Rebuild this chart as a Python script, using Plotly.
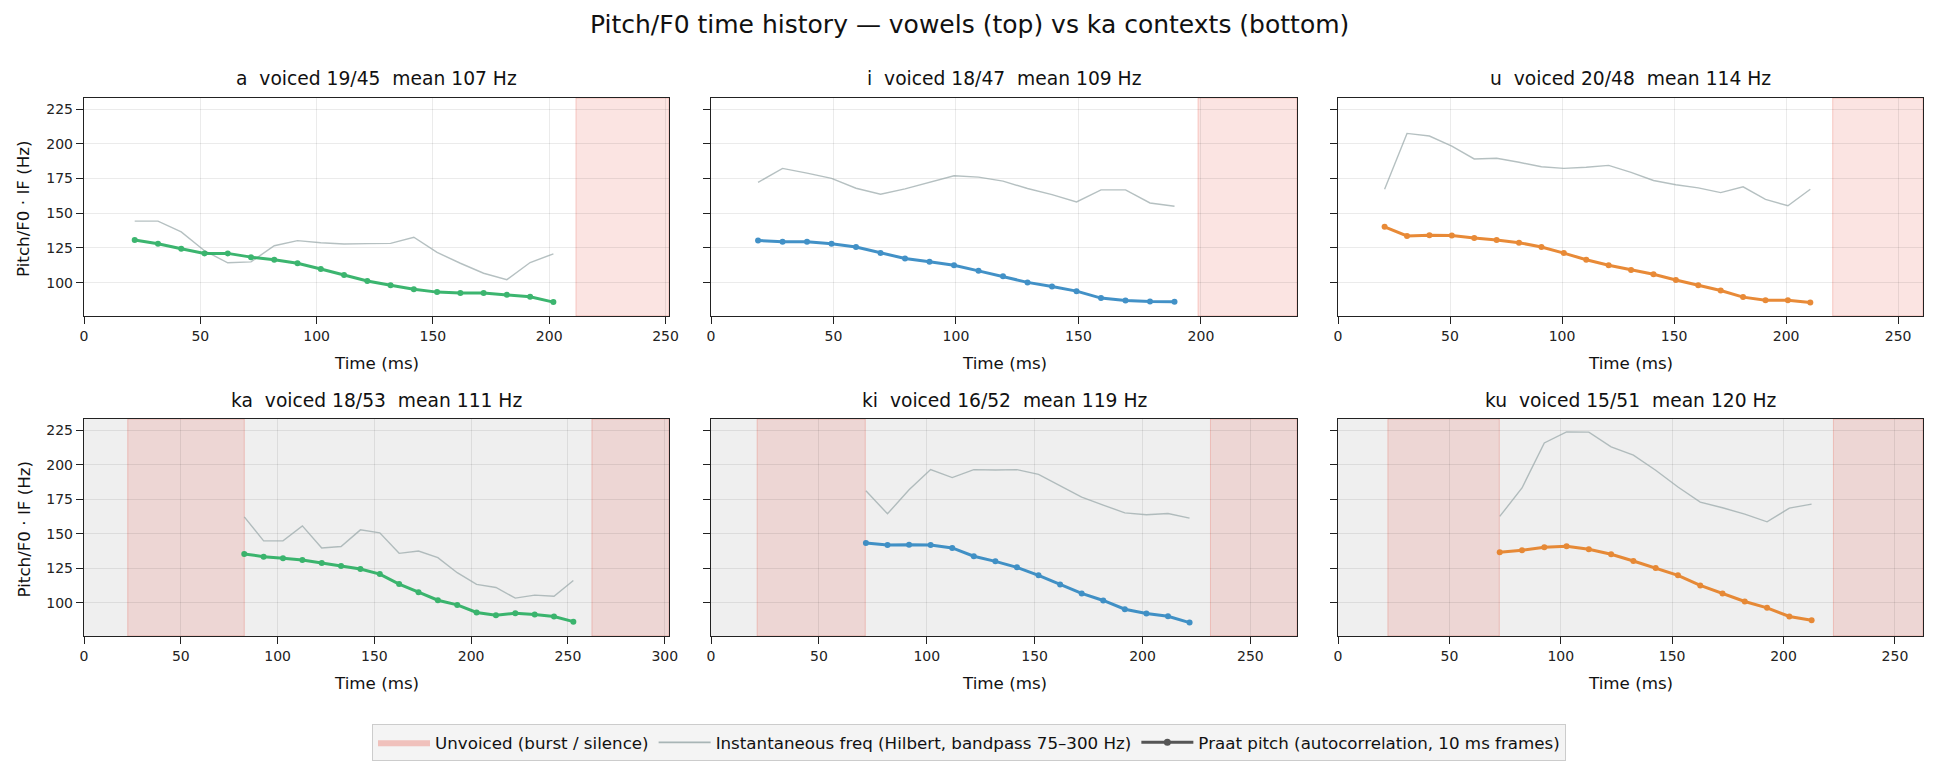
import plotly.graph_objects as go

W, H = 1938, 771

# ---------------- data ----------------
labels = ["a", "i", "u", "ka", "ki", "ku"]
voiced = [19, 18, 20, 18, 16, 15]
frames = [45, 47, 48, 53, 52, 51]
mean_hz = [107, 109, 114, 111, 119, 120]
x_max = [251.5, 239.2, 261.1, 302.2, 271.6, 262.6]

t_a = [21.8, 31.8, 41.8, 51.8, 61.8, 71.8, 81.8, 91.8, 101.8, 111.8, 121.8, 131.8, 141.8,
       151.8, 161.8, 171.8, 181.8, 191.8, 201.8]
praat_a = [130.7, 128.1, 124.5, 121.1, 121.1, 118.4, 116.5, 114.0, 109.9, 105.6, 101.2, 98.1,
           95.2, 93.2, 92.5, 92.5, 91.3, 89.8, 86.0]
if_a = [144.3, 144.3, 136.6, 123.0, 114.3, 115.0, 126.6, 130.3, 128.8, 127.8, 128.1, 128.3,
        132.7, 121.8, 114.0, 106.8, 102.2, 114.5, 120.8]

t_i = [19.2, 29.2, 39.2, 49.2, 59.2, 69.2, 79.2, 89.2, 99.2, 109.2, 119.2, 129.2, 139.2,
       149.2, 159.2, 169.2, 179.2, 189.2]
praat_i = [130.3, 129.5, 129.5, 128.1, 125.7, 121.3, 117.4, 115.0, 112.6, 108.5, 104.6, 100.2,
           97.3, 93.9, 88.9, 87.2, 86.4, 86.2]
if_i = [172.2, 182.3, 178.9, 175.1, 168.0, 163.7, 167.6, 172.2, 177.0, 176.0, 173.1, 167.8,
        163.4, 158.1, 166.8, 166.8, 157.4, 155.0]

t_u = [20.8, 30.8, 40.8, 50.8, 60.8, 70.8, 80.8, 90.8, 100.8, 110.8, 120.8, 130.8, 140.8,
       150.8, 160.8, 170.8, 180.8, 190.8, 200.8, 210.8]
praat_u = [140.2, 133.7, 134.1, 133.9, 132.2, 130.8, 128.8, 125.7, 121.3, 116.5, 112.6, 109.2,
           106.1, 101.9, 98.1, 94.4, 89.6, 87.4, 87.4, 85.7]
if_u = [167.3, 207.5, 205.6, 198.3, 189.1, 189.6, 186.7, 183.5, 182.3, 183.1, 184.5, 179.4,
        173.6, 170.5, 168.3, 164.9, 169.0, 160.0, 155.4, 167.3]

t_ka = [82.8, 92.8, 102.8, 112.8, 122.8, 132.8, 142.8, 152.8, 162.8, 172.8, 182.8, 192.8,
        202.8, 212.8, 222.8, 232.8, 242.8, 252.8]
praat_ka = [135.4, 133.4, 132.2, 131.0, 128.8, 126.6, 124.5, 120.8, 113.6, 107.7, 101.9, 98.5,
            93.0, 91.0, 92.5, 91.5, 90.1, 86.4]
if_ka = [162.2, 144.8, 144.8, 155.7, 139.7, 140.7, 152.8, 150.6, 135.8, 137.5, 132.7, 121.8,
         113.3, 111.1, 103.4, 105.6, 104.8, 116.2]

t_ki = [71.8, 81.8, 91.8, 101.8, 111.8, 121.8, 131.8, 141.8, 151.8, 161.8, 171.8, 181.8,
        191.8, 201.8, 211.8, 221.8]
praat_ki = [143.3, 141.9, 142.1, 141.9, 139.7, 133.7, 130.0, 125.7, 119.9, 113.3, 106.8, 101.7,
            95.4, 92.3, 90.3, 85.7]
if_ki = [181.1, 164.4, 181.8, 196.4, 190.6, 196.4, 196.1, 196.4, 193.0, 184.8, 176.5, 170.7,
         165.1, 163.7, 164.6, 161.3]

t_ku = [72.6, 82.6, 92.6, 102.6, 112.6, 122.6, 132.6, 142.6, 152.6, 162.6, 172.6, 182.6,
        192.6, 202.6, 212.6]
praat_ku = [136.6, 138.0, 140.2, 140.9, 138.7, 135.1, 130.3, 125.2, 119.9, 112.6, 106.8, 101.0,
            96.4, 90.1, 87.4]
if_ku = [162.5, 183.1, 215.7, 223.7, 223.5, 212.8, 206.8, 195.9, 183.8, 172.9, 168.8, 164.2,
         158.6, 168.5, 171.4]

unvoiced_a = [(211.5, 251.5)]
unvoiced_i = [(198.8, 239.2)]
unvoiced_u = [(220.8, 261.1)]
unvoiced_ka = [(22.6, 82.8), (262.4, 302.2)]
unvoiced_ki = [(21.4, 71.5), (231.5, 271.6)]
unvoiced_ku = [(22.4, 72.4), (222.4, 262.6)]

y_ticks = [100, 125, 150, 175, 200, 225]
y_range = [76, 233]
x_ticks = [0, 50, 100, 150, 200, 250, 300]

times = [t_a, t_i, t_u, t_ka, t_ki, t_ku]
praat = [praat_a, praat_i, praat_u, praat_ka, praat_ki, praat_ku]
inst = [if_a, if_i, if_u, if_ka, if_ki, if_ku]
unvoiced = [unvoiced_a, unvoiced_i, unvoiced_u, unvoiced_ka, unvoiced_ki, unvoiced_ku]
colors = ["#27ae60", "#2e86c1", "#e67e22", "#27ae60", "#2e86c1", "#e67e22"]

# ---------------- layout geometry (pixels) ----------------
cols_px = [(84, 669), (711, 1297), (1338, 1923)]
rows_px = [(98, 316), (419, 636)]

FONT = "DejaVu Sans"
DARK = "#222222"
GRID = "rgba(0,0,0,0.08)"

fig = go.Figure()
layout = dict(
    width=W, height=H, autosize=False,
    margin=dict(l=0, r=0, t=0, b=0),
    paper_bgcolor="white", plot_bgcolor="white",
    font=dict(family=FONT, color=DARK, size=14),
    showlegend=True,
)
shapes = []
annotations = []

def px2x(p):
    return p / W

def px2y(p):
    return 1 - p / H

for k in range(6):
    r, c = divmod(k, 3)
    n = k + 1
    xa = "xaxis" if n == 1 else f"xaxis{n}"
    ya = "yaxis" if n == 1 else f"yaxis{n}"
    xr = "x" if n == 1 else f"x{n}"
    yr = "y" if n == 1 else f"y{n}"
    x0p, x1p = cols_px[c]
    y0p, y1p = rows_px[r]
    layout[xa] = dict(
        domain=[px2x(x0p), px2x(x1p)], anchor=yr, range=[0, x_max[k]],
        tickvals=[v for v in x_ticks if v <= x_max[k]],
        ticks="outside", ticklen=7, tickwidth=1.2, tickcolor=DARK,
        showline=True, linecolor=DARK, linewidth=1.4, mirror=True,
        showgrid=True, gridcolor=GRID, gridwidth=1.2, zeroline=False,
        tickfont=dict(family=FONT, size=14, color=DARK), automargin=False,
    )
    layout[ya] = dict(
        domain=[px2y(y1p), px2y(y0p)], anchor=xr, range=y_range,
        tickvals=y_ticks, showticklabels=(c == 0),
        ticks="outside", ticklen=7, tickwidth=1.2, tickcolor=DARK,
        showline=True, linecolor=DARK, linewidth=1.4, mirror=True,
        showgrid=True, gridcolor=GRID, gridwidth=1.2, zeroline=False,
        tickfont=dict(family=FONT, size=14, color=DARK), automargin=False,
    )
    # grey background for ka-context row
    if r == 1:
        shapes.append(dict(type="rect", xref=f"{xr} domain", yref=f"{yr} domain",
                           x0=0, x1=1, y0=0, y1=1, fillcolor="#efefef",
                           line=dict(width=0), layer="below"))
    for (s0, s1) in unvoiced[k]:
        shapes.append(dict(type="rect", xref=xr, yref=f"{yr} domain",
                           x0=s0, x1=min(s1, x_max[k]), y0=0, y1=1,
                           fillcolor="rgba(231,76,60,0.15)",
                           line=dict(width=1, color="rgba(231,76,60,0.25)"),
                           layer="below"))
    # instantaneous frequency
    fig.add_trace(go.Scatter(
        x=times[k], y=inst[k], mode="lines", xaxis=xr, yaxis=yr,
        line=dict(color="rgba(149,165,166,0.7)", width=1.4), showlegend=False,
        hoverinfo="skip"))
    # praat pitch
    fig.add_trace(go.Scatter(
        x=times[k], y=praat[k], mode="lines+markers", xaxis=xr, yaxis=yr,
        line=dict(color=colors[k], width=3), marker=dict(size=6, color=colors[k]),
        opacity=0.9, showlegend=False))
    # subplot title
    annotations.append(dict(
        text=f"{labels[k]}\u00a0 voiced {voiced[k]}/{frames[k]}\u00a0 mean {mean_hz[k]} Hz",
        x=px2x((x0p + x1p) / 2), y=px2y(y0p - 19), xref="paper", yref="paper",
        xanchor="center", yanchor="middle", showarrow=False,
        font=dict(family=FONT, size=18.7, color="#111")))
    # x axis title
    annotations.append(dict(
        text="Time (ms)", x=px2x((x0p + x1p) / 2), y=px2y(y1p + 47),
        xref="paper", yref="paper", xanchor="center", yanchor="middle",
        showarrow=False, font=dict(family=FONT, size=16.7, color="#111")))
    if c == 0:
        annotations.append(dict(
            text="Pitch/F0 · IF (Hz)", x=px2x(23), y=px2y((y0p + y1p) / 2 + 2),
            xref="paper", yref="paper", xanchor="center", yanchor="middle",
            textangle=-90, showarrow=False,
            font=dict(family=FONT, size=16.7, color="#111")))

annotations.append(dict(
    text="Pitch/F0 time history — vowels (top) vs ka contexts (bottom)",
    x=0.5, y=px2y(25), xref="paper", yref="paper", xanchor="center", yanchor="middle",
    showarrow=False, font=dict(family=FONT, size=25, color="#111")))

# legend-only entries
fig.add_trace(go.Scatter(
    x=[None], y=[None], mode="lines", fill="toself",
    fillcolor="rgba(231,76,60,0.3)", line=dict(width=0, color="rgba(231,76,60,0.3)"),
    name="Unvoiced (burst / silence)", showlegend=True))
fig.add_trace(go.Scatter(
    x=[None], y=[None], mode="lines",
    line=dict(color="rgba(149,165,166,0.8)", width=1.6),
    name="Instantaneous freq (Hilbert, bandpass 75–300 Hz)", showlegend=True))
fig.add_trace(go.Scatter(
    x=[None], y=[None], mode="lines+markers",
    line=dict(color="#555555", width=3), marker=dict(size=7, color="#555555"),
    name="Praat pitch (autocorrelation, 10 ms frames)", showlegend=True))

layout["legend"] = dict(
    orientation="h", x=0.5, xanchor="center", y=px2y(724), yanchor="top",
    bgcolor="#f4f4f4", bordercolor="#cccccc", borderwidth=1,
    font=dict(family=FONT, size=16.7, color="#111"), itemwidth=52,
    traceorder="normal")
layout["shapes"] = shapes
layout["annotations"] = annotations
fig.update_layout(**layout)

fig.write_html("out.html")
